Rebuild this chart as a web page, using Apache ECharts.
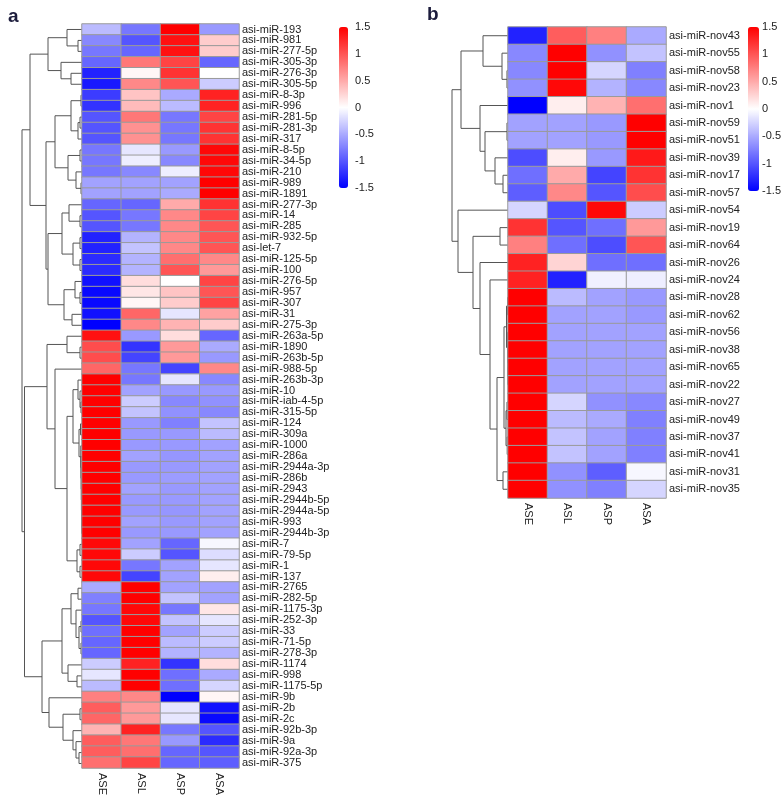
<!DOCTYPE html>
<html>
<head>
<meta charset="utf-8">
<script src="https://cdn.jsdelivr.net/npm/echarts@6/dist/echarts.min.js"></script>
<style>
  html, body { margin: 0; padding: 0; background: #fff; }
  #chart { width: 784px; height: 798px; }
</style>
</head>
<body>
<div id="chart"></div>
<script>
  const samples = ['ASE', 'ASL', 'ASP', 'ASA'];

  // ---------------- panel a ----------------
  const rowsA = ['asi-miR-193', 'asi-miR-981', 'asi-miR-277-5p', 'asi-miR-305-3p', 'asi-miR-276-3p',
    'asi-miR-305-5p', 'asi-miR-8-3p', 'asi-miR-996', 'asi-miR-281-5p', 'asi-miR-281-3p',
    'asi-miR-317', 'asi-miR-8-5p', 'asi-miR-34-5p', 'asi-miR-210', 'asi-miR-989',
    'asi-miR-1891', 'asi-miR-277-3p', 'asi-miR-14', 'asi-miR-285', 'asi-miR-932-5p',
    'asi-let-7', 'asi-miR-125-5p', 'asi-miR-100', 'asi-miR-276-5p', 'asi-miR-957',
    'asi-miR-307', 'asi-miR-31', 'asi-miR-275-3p', 'asi-miR-263a-5p', 'asi-miR-1890',
    'asi-miR-263b-5p', 'asi-miR-988-5p', 'asi-miR-263b-3p', 'asi-miR-10', 'asi-miR-iab-4-5p',
    'asi-miR-315-5p', 'asi-miR-124', 'asi-miR-309a', 'asi-miR-1000', 'asi-miR-286a',
    'asi-miR-2944a-3p', 'asi-miR-286b', 'asi-miR-2943', 'asi-miR-2944b-5p', 'asi-miR-2944a-5p',
    'asi-miR-993', 'asi-miR-2944b-3p', 'asi-miR-7', 'asi-miR-79-5p', 'asi-miR-1',
    'asi-miR-137', 'asi-miR-2765', 'asi-miR-282-5p', 'asi-miR-1175-3p', 'asi-miR-252-3p',
    'asi-miR-33', 'asi-miR-71-5p', 'asi-miR-278-3p', 'asi-miR-1174', 'asi-miR-998',
    'asi-miR-1175-5p', 'asi-miR-9b', 'asi-miR-2b', 'asi-miR-2c', 'asi-miR-92b-3p',
    'asi-miR-9a', 'asi-miR-92a-3p', 'asi-miR-375'];

  const aseA = [-0.4, -0.7, -0.8, -0.9, -1.3, -1.35, -1.15, -1.2, -1.0, -1.0,
    -1.0, -0.8, -0.8, -0.8, -0.55, -0.55, -0.9, -1.0, -1.0, -1.3,
    -1.3, -1.25, -1.25, -1.4, -1.45, -1.45, -1.4, -1.5, 1.4, 1.05,
    1.05, 0.9, 1.5, 1.5, 1.5, 1.5, 1.5, 1.5, 1.5, 1.5,
    1.5, 1.5, 1.5, 1.5, 1.5, 1.5, 1.5, 1.45, 1.45, 1.45,
    1.45, -0.5, -0.75, -0.8, -1.0, -0.85, -0.9, -0.9, -0.3, -0.15,
    -0.4, 0.75, 0.95, 0.9, 0.45, 0.95, 0.95, 0.85];
  const aslA = [-0.8, -1.0, -0.9, 0.8, 0.05, 0.7, 0.35, 0.4, 0.8, 0.65,
    0.65, -0.15, -0.1, -0.7, -0.55, -0.55, -0.9, -0.8, -0.8, -0.45,
    -0.35, -0.45, -0.45, 0.2, 0.15, 0.05, 0.9, 0.7, -0.6, -1.2,
    -1.1, -0.8, -0.8, -0.55, -0.3, -0.35, -0.6, -0.6, -0.6, -0.55,
    -0.6, -0.6, -0.55, -0.6, -0.6, -0.55, -0.6, -0.55, -0.3, -0.8,
    -1.1, 1.5, 1.5, 1.45, 1.45, 1.5, 1.5, 1.5, 1.3, 1.5,
    1.5, 0.7, 0.6, 0.6, 1.3, 0.8, 0.85, 1.1];
  const aspA = [1.5, 1.4, 1.4, 1.1, 1.2, 1.0, -0.5, -0.4, -0.8, -0.8,
    -0.8, -0.6, -0.7, -0.1, -0.55, -0.5, 0.5, 0.7, 0.7, 0.7,
    0.7, 0.85, 1.0, 0.0, 0.35, 0.3, -0.15, 0.45, 0.2, 0.6,
    0.6, -1.1, -0.15, -0.6, -0.7, -0.65, -0.75, -0.6, -0.6, -0.62,
    -0.6, -0.58, -0.6, -0.6, -0.62, -0.6, -0.6, -0.9, -1.0, -0.55,
    -0.55, -0.55, -0.35, -0.8, -0.35, -0.55, -0.4, -0.45, -1.2, -0.85,
    -0.85, -1.5, -0.15, -0.15, -0.8, -0.6, -0.9, -0.9];
  const asaA = [-0.6, 0.3, 0.3, -0.9, 0.0, -0.3, 1.3, 1.3, 1.1, 1.2,
    1.2, 1.45, 1.45, 1.45, 1.5, 1.5, 1.2, 1.1, 1.0, 1.0,
    1.0, 0.7, 0.6, 1.1, 1.0, 1.1, 0.55, 0.3, -0.9, -0.5,
    -0.6, 0.7, -0.7, -0.6, -0.65, -0.7, -0.35, -0.4, -0.55, -0.55,
    -0.55, -0.55, -0.55, -0.55, -0.55, -0.55, -0.55, -0.05, -0.2, -0.15,
    0.1, -0.55, -0.55, 0.15, -0.15, -0.3, -0.3, -0.45, 0.2, -0.5,
    -0.25, 0.05, -1.4, -1.45, -1.0, -1.25, -1.0, -0.95];

  // row clustering: [left, right, height], leaves are row indices
  const treeA = [
    [
      [[0, [1, 2, 4], 15], [3, [4, 5, 11], 21], 34],
      [
        [[[6, 7, 1], [[8, 9, 2], 10, 4], 11], [[11, 12, 2], [13, [14, 15, 1], 6], 14], 27],
        [[[16, [17, 18, 2], 13], [[19, 20, 2], [21, 22, 2], 9], 20], [[23, [24, 25, 2], 7], [26, 27, 10], 18], 34],
        36
      ],
      52
    ],
    [
      [
        [28, [29, 30, 2], 15],
        [31, [
          [[32, [33, [34, 35, 1], 2], 4], [[36, 37, 1.5], [38, [39, [40, [41, [42, [43, [44, [45, 46, 0.3], 0.4], 0.5], 0.6], 0.7], 0.8], 1], 1.2], 3], 9],
          [[47, 48, 2], [49, 50, 2], 5],
          15], 27],
        35
      ],
      [
        [[[51, 52, 4], [53, [[54, 55, 1], [56, 57, 1], 3], 6], 11], [58, [59, 60, 5], 14], 20],
        [61, [[62, 63, 2], [64, [65, [66, 67, 3], 6], 9], 19], 33],
        40
      ],
      57.5
    ],
    60
  ];

  // ---------------- panel b ----------------
  const rowsB = ['asi-miR-nov43', 'asi-miR-nov55', 'asi-miR-nov58', 'asi-miR-nov23', 'asi-miR-nov1',
    'asi-miR-nov59', 'asi-miR-nov51', 'asi-miR-nov39', 'asi-miR-nov17', 'asi-miR-nov57',
    'asi-miR-nov54', 'asi-miR-nov19', 'asi-miR-nov64', 'asi-miR-nov26', 'asi-miR-nov24',
    'asi-miR-nov28', 'asi-miR-nov62', 'asi-miR-nov56', 'asi-miR-nov38', 'asi-miR-nov65',
    'asi-miR-nov22', 'asi-miR-nov27', 'asi-miR-nov49', 'asi-miR-nov37', 'asi-miR-nov41',
    'asi-miR-nov31', 'asi-miR-nov35'];

  const aseB = [-1.3, -0.7, -0.7, -0.65, -1.5, -0.55, -0.55, -1.05, -0.85, -0.95,
    -0.25, 1.2, 0.75, 1.3, 1.3, 1.5, 1.5, 1.5, 1.5, 1.5,
    1.5, 1.5, 1.5, 1.5, 1.5, 1.5, 1.5];
  const aslB = [0.95, 1.5, 1.5, 1.45, 0.1, -0.55, -0.55, 0.1, 0.5, 0.7,
    -1.05, -1.0, -0.85, 0.25, -1.3, -0.4, -0.55, -0.55, -0.55, -0.55,
    -0.55, -0.25, -0.4, -0.35, -0.35, -0.65, -0.65];
  const aspB = [0.75, -0.65, -0.25, -0.45, 0.45, -0.6, -0.6, -0.6, -1.1, -1.0,
    1.45, -0.85, -1.05, -0.85, -0.08, -0.55, -0.55, -0.55, -0.55, -0.55,
    -0.55, -0.65, -0.5, -0.55, -0.55, -0.95, -0.75];
  const asaB = [-0.5, -0.35, -0.75, -0.7, 0.85, 1.5, 1.5, 1.35, 1.2, 1.05,
    -0.3, 0.6, 1.0, -0.85, -0.1, -0.6, -0.6, -0.55, -0.55, -0.55,
    -0.55, -0.7, -0.75, -0.75, -0.75, -0.05, -0.25];

  const treeB = [
    [[0, [1, [2, 3, 1], 6], 25], [4, [[5, 6, 1], [7, [8, 9, 5], 13], 23], 28], 47],
    [10, [[11, 12, 8], [13, [14, [
      [[[15, 16, 0.5], [17, [18, [19, 20, 0.2], 0.3], 0.5], 1.5], [[21, 22, 1], [23, 24, 0.8], 2], 4],
      [25, 26, 5], 11], 18], 28], 35], 50],
    56
  ];

  const colorScale = ['#0000ff', '#ffffff', '#ff0000'];
  const scaleMin = -1.5, scaleMax = 1.5, scaleStep = 0.5;

  // turn a nested merge tree into elbow segments [hLeft, posLeft, hRight, posRight, h]
  const treeSegments = tree => {
    const segs = [];
    const walk = node => {
      if (typeof node === 'number') return { pos: node + 0.5, h: 0 };
      const l = walk(node[0]);
      const r = walk(node[1]);
      segs.push([l.h, l.pos, r.h, r.pos, node[2]]);
      return { pos: (l.pos + r.pos) / 2, h: node[2] };
    };
    walk(tree);
    return segs;
  };

  const cells = cols => {
    const out = [];
    cols.forEach((col, c) => col.forEach((v, r) => out.push([c, r, v])));
    return out;
  };

  const renderElbow = (params, api) => {
    const pts = [
      api.coord([api.value(0), api.value(1)]),
      api.coord([api.value(4), api.value(1)]),
      api.coord([api.value(4), api.value(3)]),
      api.coord([api.value(2), api.value(3)])
    ];
    return {
      type: 'polyline',
      shape: { points: pts },
      style: { stroke: '#555', lineWidth: 1, fill: null }
    };
  };

  const panels = [
    { rows: rowsA, cols: [aseA, aslA, aspA, asaA], tree: treeA, dLeft: 20, left: 82, top: 24, width: 157, height: 745, barLeft: 339, barTop: 27, barW: 9, barH: 161 },
    { rows: rowsB, cols: [aseB, aslB, aspB, asaB], tree: treeB, dLeft: 446, left: 508, top: 27, width: 158, height: 471, barLeft: 748, barTop: 27, barW: 11, barH: 164 }
  ];

  const grid = [], xAxis = [], yAxis = [], series = [], visualMap = [];
  const font = { fontFamily: 'Liberation Sans, Arial, sans-serif', color: '#222', fontSize: 11 };

  panels.forEach((p, i) => {
    const n = p.rows.length;
    // dendrogram grid
    grid.push({ left: p.dLeft, top: p.top, width: p.left - p.dLeft, height: p.height });
    xAxis.push({ type: 'value', gridIndex: grid.length - 1, min: 0, max: p.left - p.dLeft, inverse: true, show: false });
    yAxis.push({ type: 'value', gridIndex: grid.length - 1, min: 0, max: n, inverse: true, show: false });
    series.push({
      type: 'custom',
      xAxisIndex: xAxis.length - 1,
      yAxisIndex: yAxis.length - 1,
      renderItem: renderElbow,
      encode: { x: [0, 2, 4], y: [1, 3] },
      silent: true,
      data: treeSegments(p.tree)
    });

    // heatmap grid
    grid.push({ left: p.left, top: p.top, width: p.width, height: p.height });
    xAxis.push({
      type: 'category', gridIndex: grid.length - 1, data: samples, position: 'bottom',
      axisLine: { show: false }, axisTick: { show: false },
      axisLabel: Object.assign({ rotate: -90, margin: 5, interval: 0 }, font)
    });
    yAxis.push({
      type: 'category', gridIndex: grid.length - 1, data: p.rows, inverse: true, position: 'right',
      axisLine: { show: false }, axisTick: { show: false },
      axisLabel: Object.assign({ margin: 3, interval: 0 }, font)
    });
    series.push({
      type: 'heatmap',
      xAxisIndex: xAxis.length - 1,
      yAxisIndex: yAxis.length - 1,
      itemStyle: { borderColor: '#9a9a9a', borderWidth: 1 },
      emphasis: { disabled: true },
      data: cells(p.cols)
    });
    visualMap.push({
      type: 'continuous', min: scaleMin, max: scaleMax, seriesIndex: series.length - 1,
      left: p.barLeft, top: p.barTop, itemWidth: p.barW, itemHeight: p.barH,
      padding: 0, calculable: false, hoverLink: false,
      inRange: { color: colorScale }
    });

    // colour-key tick labels
    grid.push({ left: p.barLeft, top: p.barTop, width: p.barW, height: p.barH });
    xAxis.push({ type: 'value', gridIndex: grid.length - 1, show: false, min: 0, max: 1 });
    yAxis.push({
      type: 'value', gridIndex: grid.length - 1, min: scaleMin, max: scaleMax, interval: scaleStep,
      position: 'right', axisLine: { show: false }, axisTick: { show: false }, splitLine: { show: false },
      axisLabel: Object.assign({ margin: i === 0 ? 7 : 11 }, font)
    });
  });

  const titleStyle = { fontSize: 19, fontWeight: 'bold', color: '#1c1c3c', fontFamily: 'Liberation Sans, Arial, sans-serif' };

  const chart = echarts.init(document.getElementById('chart'));
  chart.setOption({
    animation: false,
    backgroundColor: '#fff',
    title: [
      { text: 'a', left: 8, top: 7, padding: 0, textStyle: titleStyle },
      { text: 'b', left: 427, top: 5, padding: 0, textStyle: titleStyle }
    ],
    grid,
    xAxis,
    yAxis,
    visualMap,
    series
  });
</script>
</body>
</html>
